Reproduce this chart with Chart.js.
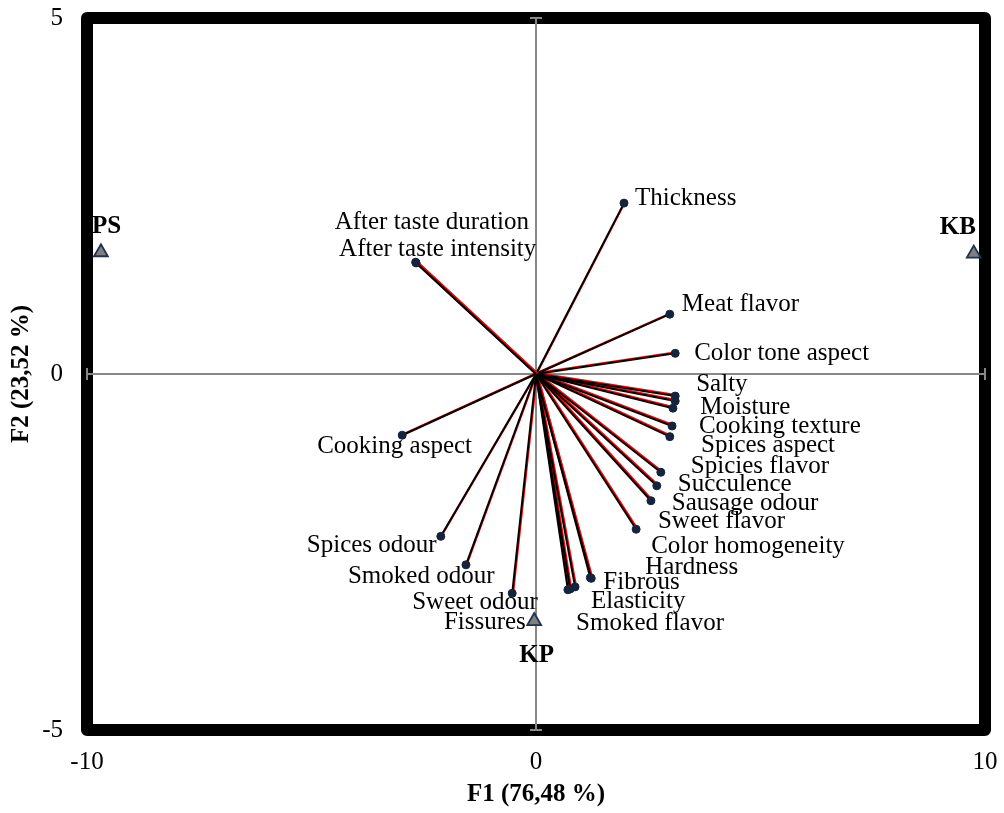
<!DOCTYPE html>
<html>
<head>
<meta charset="utf-8">
<script src="https://cdn.jsdelivr.net/npm/chart.js@4.4.1/dist/chart.umd.min.js"></script>
<style>
  body { margin: 0; background: #fff; }
  #wrap { width: 1004px; height: 813px; }
</style>
</head>
<body>
<div id="wrap"><canvas id="biplot" width="1004" height="813"></canvas></div>
<script>
// variables (loadings)
const varNames = [
  'After taste duration', 'After taste intensity', 'Thickness', 'Meat flavor',
  'Color tone aspect', 'Salty', 'Moisture', 'Cooking texture', 'Spices aspect',
  'Spicies flavor', 'Succulence', 'Sausage odour', 'Sweet flavor',
  'Color homogeneity', 'Hardness', 'Fibrous', 'Elasticity', 'Smoked flavor',
  'Fissures', 'Sweet odour', 'Smoked odour', 'Spices odour', 'Cooking aspect'
];
const varF1 = [-2.68, -2.67, 1.96, 2.98, 3.10, 3.10, 3.10, 3.05, 3.03, 2.98, 2.78, 2.69, 2.56,
  2.23, 1.23, 1.21, 0.87, 0.76, 0.71, -0.53, -1.56, -2.12, -2.98];
const varF2 = [1.57, 1.56, 2.40, 0.84, 0.29, -0.31, -0.38, -0.48, -0.73, -0.88, -1.38, -1.57, -1.78,
  -2.18, -2.87, -2.86, -2.99, -3.02, -3.03, -3.08, -2.68, -2.28, -0.86];

// observations (products)
const obsNames = ['PS', 'KB', 'KP'];
const obsF1 = [-9.69, 9.75, -0.04];
const obsF2 = [1.71, 1.69, -3.47];

const xTicks = [-10, 0, 10];
const yTicks = [-5, 0, 5];

// label placement, pixels from the marker (left edge, middle)
const varLabelOffsets = [
  [-81, -40], [-77, -13], [11, -5], [12, -10], [19, 0], [21, -12], [25, 6], [26, 18],
  [29, 19], [21, 30], [17, 12], [15, 18], [7, 21], [15, 17], [54, -11], [13, 5],
  [16, 15], [6, 34], [-124, 33], [-100, 9], [-118, 12], [-134, 9], [-85, 11]
];
const obsLabelOffsets = [[-9, -26], [-34, -26], [-15, 34]];

const serif = "'Liberation Serif', 'Times New Roman', serif";

const vectorSets = varNames.map(function (name, i) {
  return {
    type: 'line',
    label: name,
    isVector: true,
    data: [{ x: 0, y: 0 }, { x: varF1[i], y: varF2[i] }],
    borderColor: '#000',
    borderWidth: 2,
    pointRadius: 0,
    order: 3
  };
});

const varPoints = {
  type: 'scatter',
  label: 'Variables',
  data: varNames.map(function (n, i) { return { x: varF1[i], y: varF2[i] }; }),
  pointRadius: 4,
  pointBackgroundColor: '#14243d',
  pointBorderColor: '#14243d',
  order: 2
};

const obsPoints = {
  type: 'scatter',
  label: 'Observations',
  data: obsNames.map(function (n, i) { return { x: obsF1[i], y: obsF2[i] }; }),
  pointStyle: 'triangle',
  pointRadius: 8,
  pointBackgroundColor: '#7f7f7f',
  pointBorderColor: '#1f3050',
  pointBorderWidth: 1.8,
  order: 1
};

// frame + zero axes with end caps
const framePlugin = {
  id: 'frame',
  beforeDatasetsDraw: function (chart) {
    const ctx = chart.ctx, a = chart.chartArea;
    const x0 = chart.scales.x.getPixelForValue(0);
    const y0 = chart.scales.y.getPixelForValue(0);
    ctx.save();
    ctx.strokeStyle = '#000';
    ctx.lineWidth = 12;
    ctx.lineJoin = 'round';
    ctx.strokeRect(a.left, a.top, a.right - a.left, a.bottom - a.top);

    ctx.strokeStyle = '#888';
    ctx.lineWidth = 2;
    ctx.lineJoin = 'miter';
    ctx.beginPath();
    ctx.moveTo(x0, a.top); ctx.lineTo(x0, a.bottom);
    ctx.moveTo(a.left, y0); ctx.lineTo(a.right, y0);
    ctx.moveTo(x0 - 6, a.top); ctx.lineTo(x0 + 6, a.top);
    ctx.moveTo(x0 - 6, a.bottom); ctx.lineTo(x0 + 6, a.bottom);
    ctx.moveTo(a.left, y0 - 6); ctx.lineTo(a.left, y0 + 6);
    ctx.moveTo(a.right, y0 - 6); ctx.lineTo(a.right, y0 + 6);
    ctx.stroke();
    ctx.restore();
  },
  // red offset shadow under each vector
  beforeDatasetDraw: function (chart, args) {
    if (!args.meta._dataset.isVector) return;
    const ctx = chart.ctx;
    ctx.save();
    ctx.shadowColor = '#ff0000';
    ctx.shadowOffsetX = 1;
    ctx.shadowOffsetY = -1;
    ctx.shadowBlur = 0;
  },
  afterDatasetDraw: function (chart, args) {
    if (!args.meta._dataset.isVector) return;
    chart.ctx.restore();
  }
};

const labelPlugin = {
  id: 'pointLabels',
  afterDatasetsDraw: function (chart) {
    const ctx = chart.ctx;
    const sx = chart.scales.x, sy = chart.scales.y;
    ctx.save();
    ctx.fillStyle = '#000';
    ctx.textAlign = 'left';
    ctx.textBaseline = 'middle';
    ctx.font = '25px ' + serif;
    varNames.forEach(function (name, i) {
      const px = sx.getPixelForValue(varF1[i]);
      const py = sy.getPixelForValue(varF2[i]);
      ctx.fillText(name, px + varLabelOffsets[i][0], py + varLabelOffsets[i][1]);
    });
    ctx.font = 'bold 25px ' + serif;
    obsNames.forEach(function (name, i) {
      const px = sx.getPixelForValue(obsF1[i]);
      const py = sy.getPixelForValue(obsF2[i]);
      ctx.fillText(name, px + obsLabelOffsets[i][0], py + obsLabelOffsets[i][1]);
    });
    ctx.restore();
  }
};

const config = {
  type: 'scatter',
  data: { datasets: vectorSets.concat([varPoints, obsPoints]) },
  options: {
    responsive: false,
    animation: false,
    layout: { padding: { top: 18, right: 19, left: 0, bottom: 0 } },
    plugins: {
      legend: { display: false },
      tooltip: { enabled: false }
    },
    scales: {
      x: {
        type: 'linear',
        min: -10,
        max: 10,
        afterBuildTicks: function (s) { s.ticks = xTicks.map(function (v) { return { value: v }; }); },
        afterFit: function (s) { s.height = 83; },
        // tick marks are hidden, tickLength just spaces the labels
        grid: { display: false, drawTicks: true, tickLength: 17 },
        border: { display: false },
        ticks: { color: '#000', padding: 0, font: { family: serif, size: 25 } },
        title: {
          display: true,
          text: 'F1 (76,48 %)',
          color: '#000',
          padding: { top: 0, bottom: 3 },
          font: { family: serif, size: 25, weight: 'bold' }
        }
      },
      y: {
        type: 'linear',
        min: -5,
        max: 5,
        afterBuildTicks: function (s) { s.ticks = yTicks.map(function (v) { return { value: v }; }); },
        afterFit: function (s) { s.width = 87; },
        grid: { display: false, drawTicks: true, tickLength: 24 },
        border: { display: false },
        ticks: { color: '#000', padding: 0, font: { family: serif, size: 25 } },
        title: {
          display: true,
          text: 'F2 (23,52 %)',
          color: '#000',
          padding: { top: 7, bottom: 0 },
          font: { family: serif, size: 25, weight: 'bold' }
        }
      }
    }
  },
  plugins: [framePlugin, labelPlugin]
};

var myChart = new Chart(document.getElementById('biplot'), config);
</script>
</body>
</html>
